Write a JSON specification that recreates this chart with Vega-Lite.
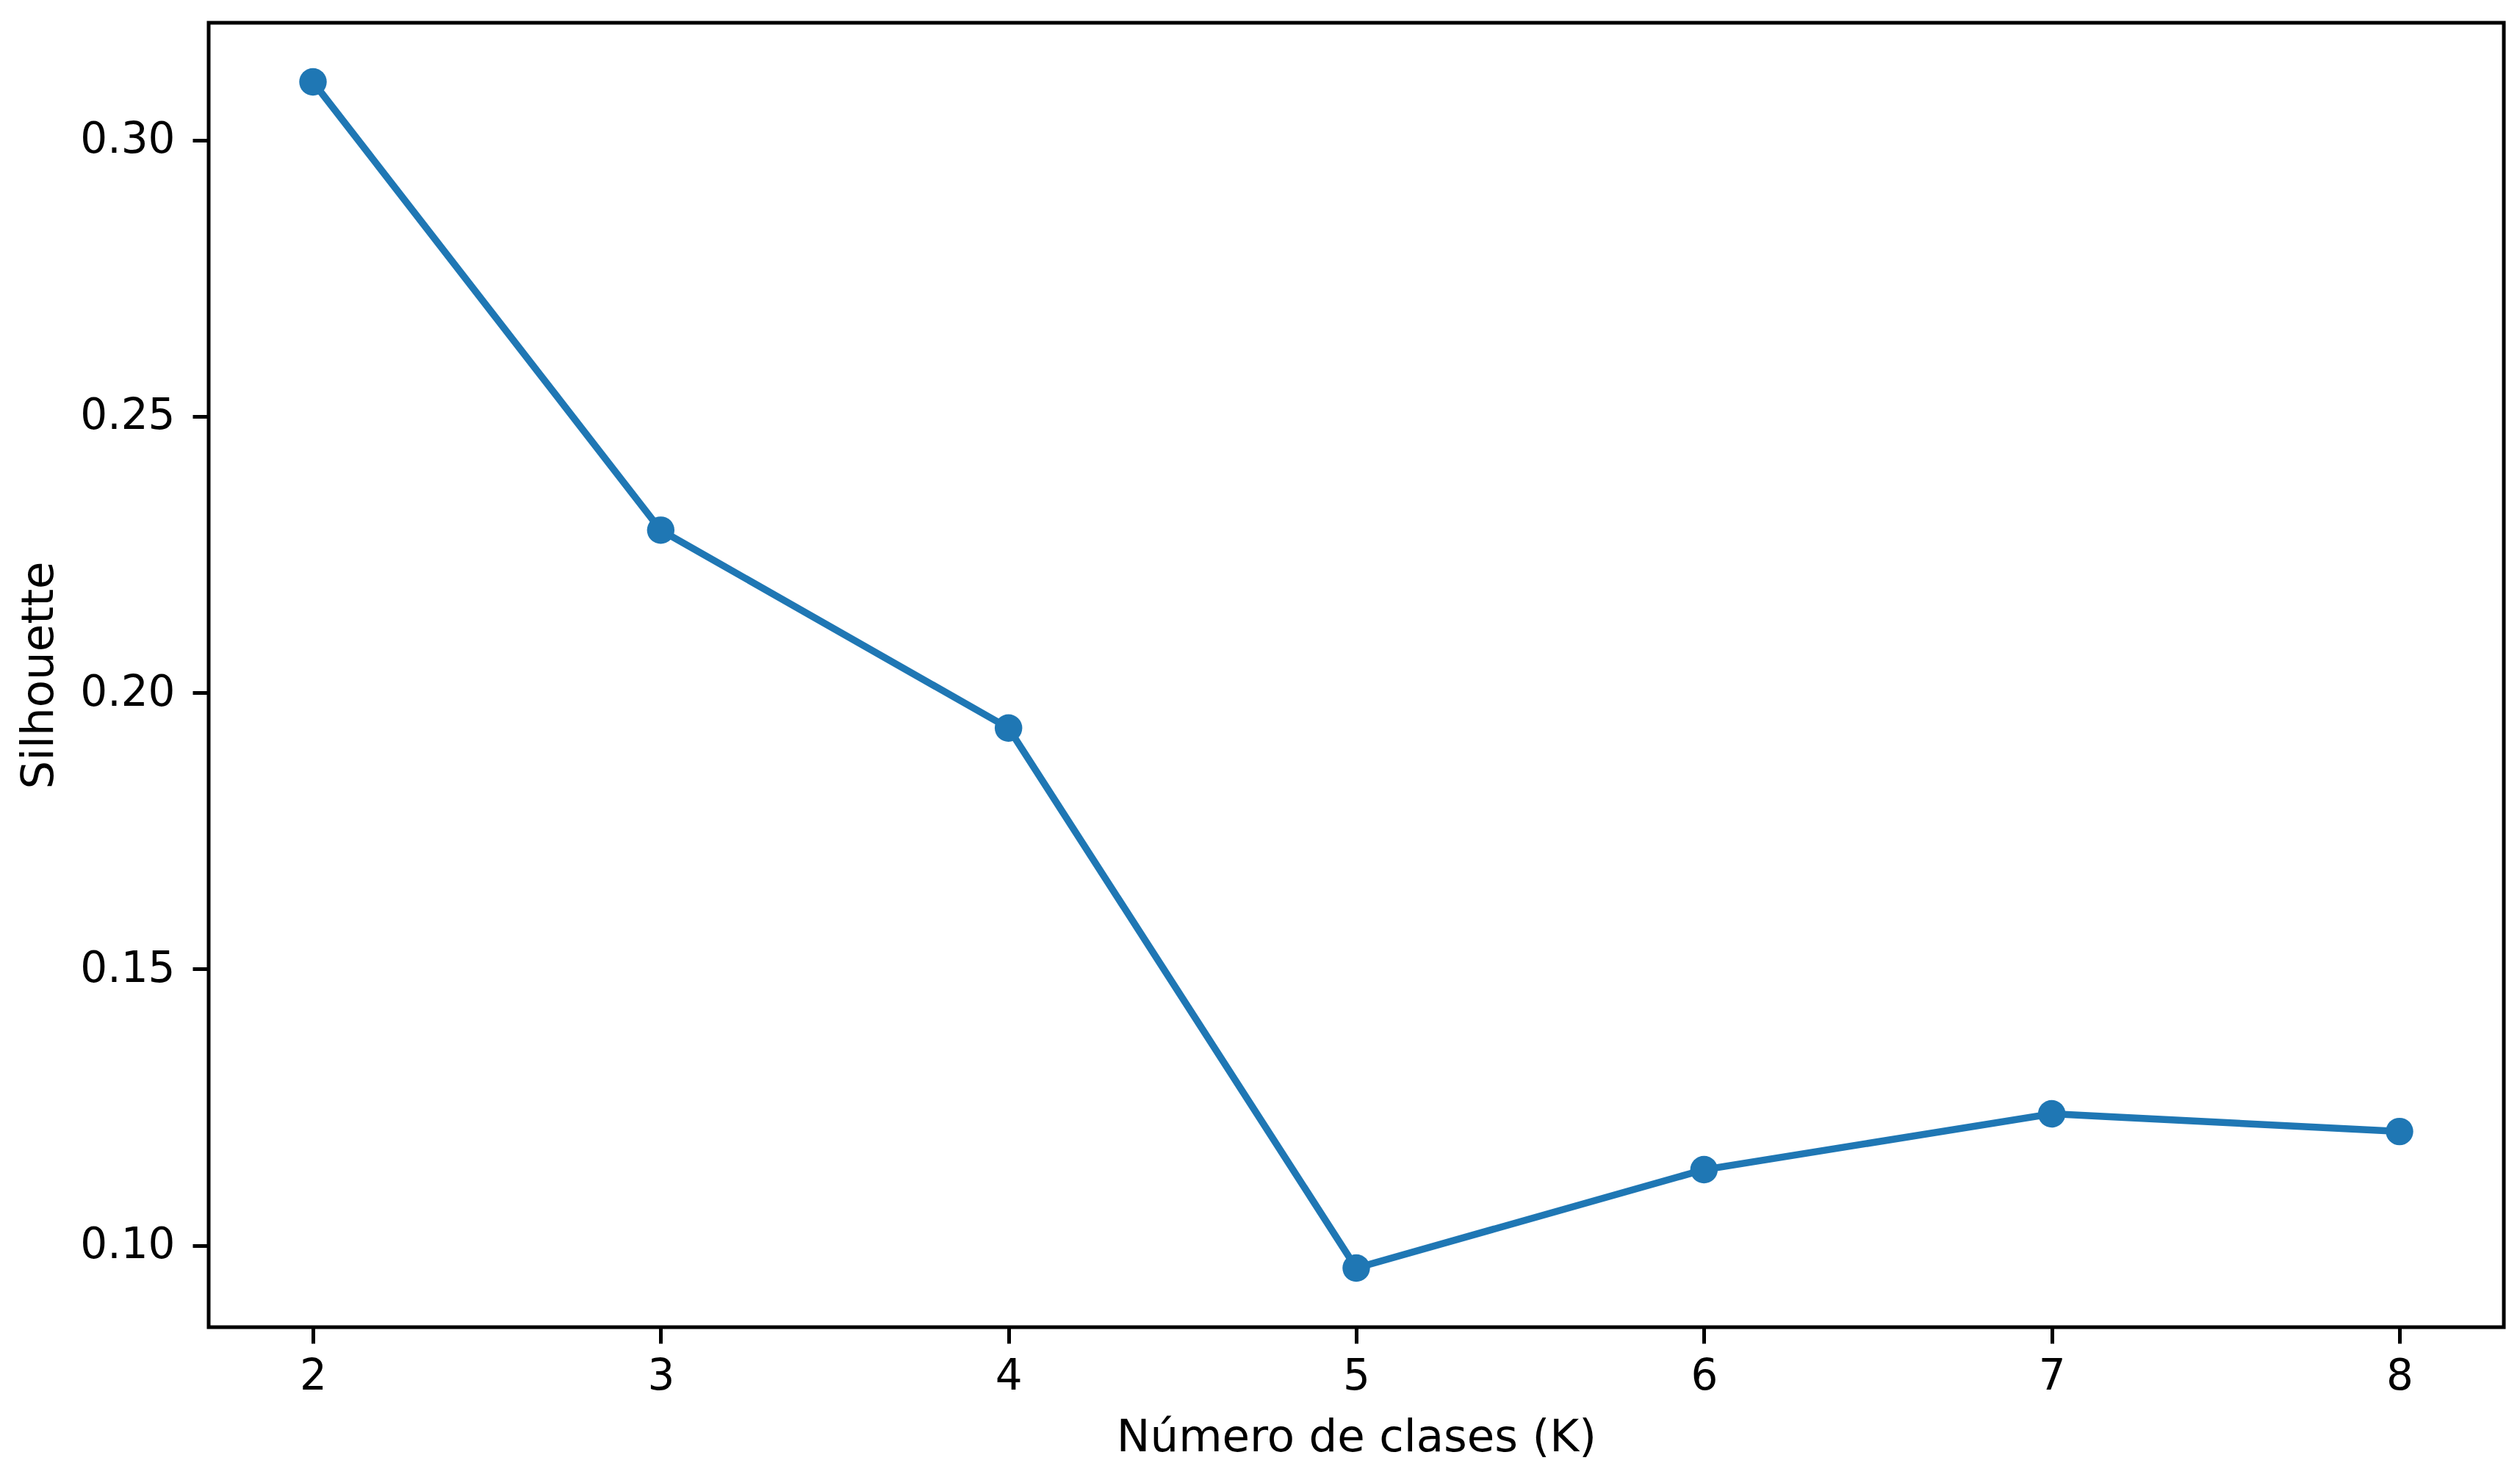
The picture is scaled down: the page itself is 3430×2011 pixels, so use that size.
{
  "$schema": "https://vega.github.io/schema/vega-lite/v6.json",
  "width": 3124,
  "height": 1776,
  "autosize": {"type": "none"},
  "padding": {"left": 284, "top": 31, "right": 22, "bottom": 204},
  "background": "white",
  "config": {
    "view": {"stroke": "#000", "strokeWidth": 5},
    "axis": {
      "labelFont": "DejaVu Sans",
      "titleFont": "DejaVu Sans",
      "labelFontSize": 58,
      "titleFontSize": 61,
      "titleFontWeight": "normal",
      "labelColor": "#000",
      "titleColor": "#000",
      "tickColor": "#000",
      "tickSize": 22,
      "tickWidth": 5,
      "domain": false,
      "grid": false
    }
  },
  "data": {
    "values": [
      {"K": 2, "silhouette": 0.3105},
      {"K": 3, "silhouette": 0.2294},
      {"K": 4, "silhouette": 0.1936},
      {"K": 5, "silhouette": 0.0959},
      {"K": 6, "silhouette": 0.1137},
      {"K": 7, "silhouette": 0.1238},
      {"K": 8, "silhouette": 0.1206}
    ]
  },
  "encoding": {
    "x": {
      "field": "K",
      "type": "quantitative",
      "scale": {"domain": [1.7, 8.3], "nice": false, "zero": false},
      "axis": {
        "values": [2, 3, 4, 5, 6, 7, 8],
        "format": "d",
        "title": "Número de clases (K)",
        "labelPadding": 16,
        "titleY": 168,
        "titleBaseline": "alphabetic"
      }
    },
    "y": {
      "field": "silhouette",
      "type": "quantitative",
      "scale": {"domain": [0.0852, 0.3212], "nice": false, "zero": false},
      "axis": {
        "values": [0.10, 0.15, 0.20, 0.25, 0.30],
        "format": ".2f",
        "title": "Silhouette",
        "labelPadding": 24,
        "titleX": -213,
        "titleAngle": -90,
        "titleBaseline": "alphabetic"
      }
    }
  },
  "layer": [
    {"mark": {"type": "line", "color": "#1f77b4", "strokeWidth": 9.5}},
    {"mark": {"type": "point", "filled": true, "size": 1400, "color": "#1f77b4", "opacity": 1}}
  ]
}
